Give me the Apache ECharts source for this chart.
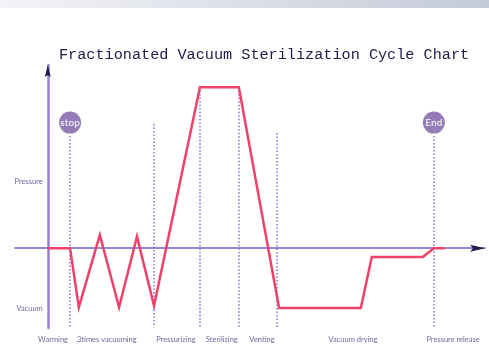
<!DOCTYPE html>
<html>
<head>
<meta charset="utf-8">
<script src="https://cdn.jsdelivr.net/npm/echarts@6/dist/echarts.min.js"></script>
<style>
  html, body { margin: 0; padding: 0; background: #ffffff; }
  #chart { width: 489px; height: 358px; }
</style>
</head>
<body>
<div id="chart"></div>
<script>
// Cycle profile: time (arbitrary units) vs chamber pressure (kPa, relative)
const cycleTime     = [0,   5.1, 7.1, 11.9, 16.3, 20.4, 24.3, 34.8, 43.7, 52.9, 71.6, 74.1, 85.8, 88.3, 90.8];
const cyclePressure = [0,   0,   -80, 18,   -80,  16,   -78,  218,  218,  -81,  -81,  -12,  -12,  0,    0];

// Phase boundaries (dotted verticals) and how high each one reaches
const boundaryTime = [5.1, 24.3, 34.8, 43.7, 52.4, 88.3];
const boundaryTop  = [152, 168,  218,  218,  156,  152];

// Phase names along the time axis
const phaseNames = ['Warming', '3times vacuuming', 'Pressurizing', 'Sterilizing', 'Venting', 'Vacuum drying', 'Pressure release'];
const phaseTime  = [1.2, 13.5, 29.3, 39.8, 49.0, 69.8, 92.7];

// Start / end markers
const markerNames = ['stop', 'End'];
const markerTime  = [5.1, 88.3];
const markerLevel = [170, 170];

// Level names on the pressure axis
const levelNames = ['Pressure', 'Vacuum'];
const levelValue = [90, -82];

const X_MIN = -7.5, X_MAX = 100, Y_MIN = -108, Y_MAX = 248;
const axisPurple = '#9b80cf';
const navy = '#1d1b4a';
const labelColor = '#6c6a9f';

const chart = echarts.init(document.getElementById('chart'), null, { renderer: 'canvas' });

chart.setOption({
  animation: false,
  backgroundColor: '#ffffff',
  title: {
    text: 'Fractionated Vacuum Sterilization Cycle Chart',
    left: 59, top: 47, padding: 0,
    textStyle: { fontFamily: 'Liberation Mono', fontSize: 15.2, fontWeight: 'normal', color: navy }
  },
  grid: { left: 15, right: 4, top: 65, bottom: 30, containLabel: false },
  xAxis: {
    type: 'value', min: X_MIN, max: X_MAX,
    axisLine: { show: true, onZero: true, lineStyle: { color: '#6f62c8', width: 1.5 } },
    axisTick: { show: false }, axisLabel: { show: false }, splitLine: { show: false }
  },
  yAxis: {
    type: 'value', min: Y_MIN, max: Y_MAX,
    axisLine: { show: true, onZero: true, lineStyle: { color: axisPurple, width: 2.5 } },
    axisTick: { show: false }, axisLabel: { show: false }, splitLine: { show: false }
  },
  series: [
    {
      name: 'boundaries',
      type: 'line',
      data: [],
      silent: true,
      markLine: {
        silent: true,
        symbol: ['none', 'none'],
        label: { show: false },
        lineStyle: { type: [1.5, 2], color: '#8a6fd0', width: 1.5 },
        data: boundaryTime.map((t, i) => [{ coord: [t, boundaryTop[i]] }, { coord: [t, Y_MIN + 1] }])
      }
    },
    {
      name: 'cycle',
      type: 'line',
      data: cycleTime.map((t, i) => [t, cyclePressure[i]]),
      symbol: 'none',
      z: 5,
      lineStyle: { color: '#f0416b', width: 2.5, join: 'miter' }
    },
    {
      name: 'markers',
      type: 'scatter',
      data: markerTime.map((t, i) => ({ name: markerNames[i], value: [t, markerLevel[i]] })),
      symbolSize: 22,
      itemStyle: { color: '#7c5aa8' },
      z: 6,
      label: {
        show: true, position: 'inside', formatter: '{b}',
        color: '#ffffff', fontFamily: 'Lato', fontWeight: 'bold', fontSize: 10
      }
    }
  ]
});

// Texts and arrow heads placed from the axis scales
function px(x, y) { return chart.convertToPixel({ gridIndex: 0 }, [x, y]); }
const graphics = [];

// header strip
graphics.push({
  type: 'rect', left: 0, top: 0, z: 0,
  shape: { width: 489, height: 8 },
  style: { fill: new echarts.graphic.LinearGradient(0, 0, 1, 0, [
    { offset: 0, color: '#f3f4f7' }, { offset: 1, color: '#c4cad8' }
  ]) }
});

levelNames.forEach((name, i) => {
  const p = px(0, levelValue[i]);
  graphics.push({
    type: 'text', x: p[0] - 5, y: p[1], z: 10,
    style: { text: name, fill: labelColor, font: '7.5px Lato', textAlign: 'right', textVerticalAlign: 'middle' }
  });
});

phaseNames.forEach((name, i) => {
  const p = px(phaseTime[i], Y_MIN);
  graphics.push({
    type: 'text', x: p[0], y: p[1] + 11.5, z: 10,
    style: { text: name, fill: labelColor, font: '7.5px Lato', textAlign: 'center', textVerticalAlign: 'middle' }
  });
});

// arrow heads
const xEnd = px(X_MAX, 0);
graphics.push({
  type: 'polygon', z: 10,
  shape: { points: [[xEnd[0], xEnd[1]], [xEnd[0] - 15, xEnd[1] - 3.5], [xEnd[0] - 12, xEnd[1]], [xEnd[0] - 15, xEnd[1] + 3.5]] },
  style: { fill: navy }
});
const yEnd = px(0, Y_MAX);
graphics.push({
  type: 'polygon', z: 10,
  shape: { points: [[yEnd[0], yEnd[1]], [yEnd[0] - 3, yEnd[1] + 12], [yEnd[0], yEnd[1] + 10], [yEnd[0] + 3, yEnd[1] + 12]] },
  style: { fill: navy }
});

chart.setOption({ graphic: graphics });
</script>
</body>
</html>
